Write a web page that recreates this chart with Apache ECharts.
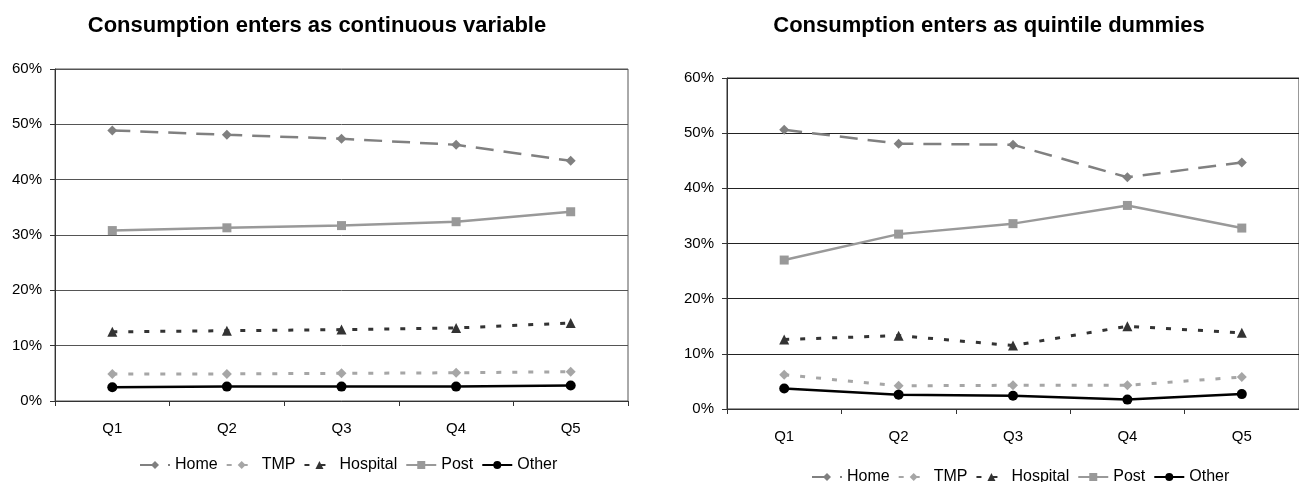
<!DOCTYPE html>
<html>
<head>
<meta charset="utf-8">
<script src="https://cdn.jsdelivr.net/npm/echarts@6/dist/echarts.min.js"></script>
<style>
html,body{margin:0;padding:0;background:#fff;}
#c{width:1299px;height:482px;}
</style>
</head>
<body>
<div id="c"></div>
<script>
const categories = ['Q1','Q2','Q3','Q4','Q5'];
const seriesNames = ['Home','TMP','Hospital','Post','Other'];
const titles = ['Consumption enters as continuous variable','Consumption enters as quintile dummies'];
const yTicks = [0,10,20,30,40,50,60];

// Left chart: continuous variable (percent)
const contHome = [48.9, 48.1, 47.4, 46.3, 43.4];
const contTMP = [4.9, 4.9, 5.0, 5.1, 5.3];
const contHospital = [12.5, 12.7, 12.9, 13.2, 14.1];
const contPost = [30.8, 31.3, 31.7, 32.4, 34.2];
const contOther = [2.5, 2.6, 2.6, 2.6, 2.8];

// Right chart: quintile dummies (percent)
const quinHome = [50.6, 48.1, 47.9, 42.0, 44.7];
const quinTMP = [6.2, 4.2, 4.3, 4.3, 5.8];
const quinHospital = [12.6, 13.3, 11.5, 15.0, 13.8];
const quinPost = [27.0, 31.7, 33.6, 36.9, 32.8];
const quinOther = [3.7, 2.6, 2.4, 1.7, 2.7];

const FONT = "'Liberation Sans',Arial,sans-serif";

const styles = {
  Home: {color:'#808080', type:[18,10], width:2.5, symbol:'diamond', size:10},
  TMP: {color:'#a6a6a6', type:[5,11], width:3, symbol:'diamond', size:10},
  Hospital: {color:'#333333', type:[5,11], width:3, symbol:'triangle', size:10},
  Post: {color:'#999999', type:'solid', width:2.5, symbol:'rect', size:9},
  Other: {color:'#000000', type:'solid', width:2.5, symbol:'circle', size:10}
};

const leftData = {Home:contHome, TMP:contTMP, Hospital:contHospital, Post:contPost, Other:contOther};
const rightData = {Home:quinHome, TMP:quinTMP, Hospital:quinHospital, Post:quinPost, Other:quinOther};

function mkSeries(dataMap, idx){
  return seriesNames.map(n => ({
    name:n, type:'line', xAxisIndex:idx, yAxisIndex:idx,
    data:dataMap[n], symbol:styles[n].symbol, symbolSize:styles[n].size,
    showSymbol:true, animation:false,
    lineStyle:{color:styles[n].color, type:styles[n].type, width:styles[n].width},
    itemStyle:{color:styles[n].color}
  }));
}

function xAx(idx){
  return {
    type:'category', gridIndex:idx, data:categories, boundaryGap:true,
    axisLine:{lineStyle:{color:'#333', width:1}},
    axisTick:{show:true, length:5, lineStyle:{color:'#333'}},
    axisLabel:{color:'#000', fontFamily:FONT, fontSize:15, margin:20}
  };
}
function yAx(idx, gridColor){
  return {
    type:'value', gridIndex:idx, min:yTicks[0], max:yTicks[yTicks.length-1], interval:10,
    axisLine:{show:true, lineStyle:{color:'#333', width:1}},
    axisTick:{show:true, length:5, lineStyle:{color:'#333'}},
    axisLabel:{color:'#000', fontFamily:FONT, fontSize:15, margin:13, formatter:'{value}%'},
    splitLine:{show:true, lineStyle:{color:gridColor, width:1}}
  };
}

const legendText = {fontFamily:FONT, fontSize:16, color:'#000'};

const chart = echarts.init(document.getElementById('c'), null, {renderer:'canvas'});
chart.setOption({
  backgroundColor:'#fff',
  animation:false,
  title:[
    {text:titles[0], left:312, top:10, textAlign:'center', textStyle:{fontFamily:FONT, fontWeight:'bold', fontSize:22, color:'#000'}},
    {text:titles[1], left:984, top:10, textAlign:'center', textStyle:{fontFamily:FONT, fontWeight:'bold', fontSize:22, color:'#000'}}
  ],
  grid:[
    {left:55, right:671, top:69, bottom:81, show:true, borderColor:'#555', borderWidth:1},
    {left:727, right:0, top:78, bottom:73, show:true, borderColor:'#333', borderWidth:1}
  ],
  xAxis:[xAx(0), xAx(1)],
  yAxis:[yAx(0,'#555'), yAx(1,'#222')],
  legend:[
    {data:seriesNames, left:134, top:452, itemWidth:30, itemHeight:10, itemGap:8, textStyle:legendText},
    {data:seriesNames, left:806, top:464, itemWidth:30, itemHeight:10, itemGap:8, textStyle:legendText}
  ],
  series:[...mkSeries(leftData,0), ...mkSeries(rightData,1)]
});
</script>
</body>
</html>
